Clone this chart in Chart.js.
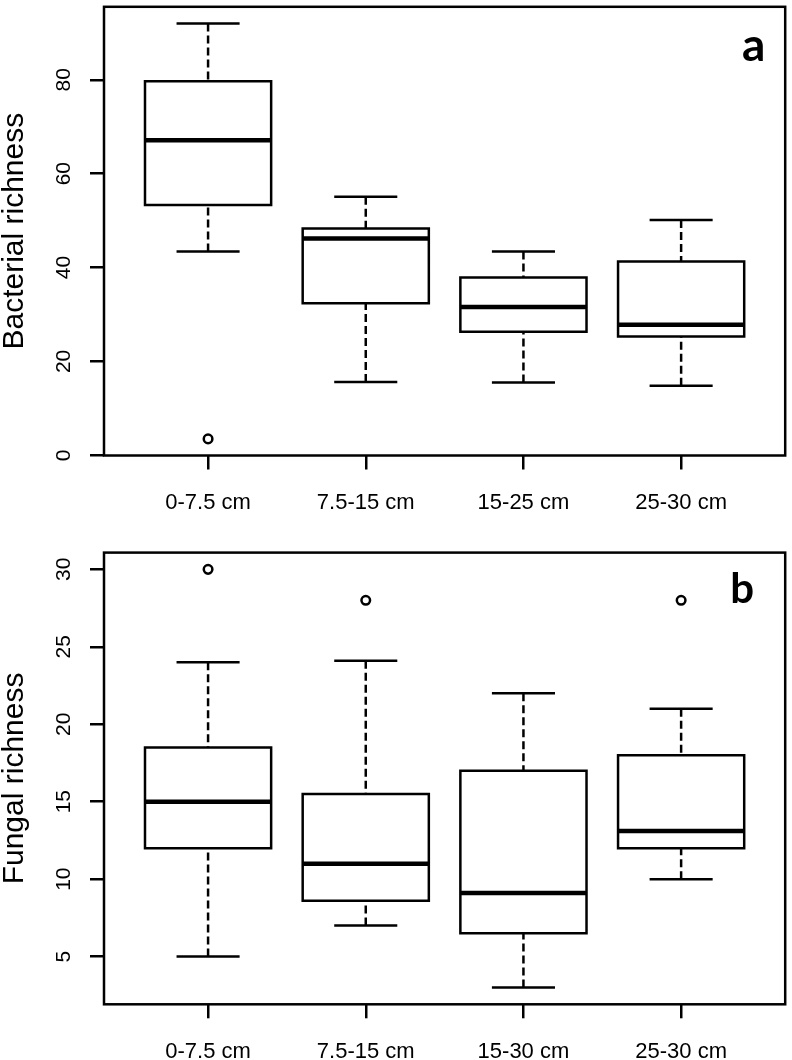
<!DOCTYPE html>
<html><head><meta charset="utf-8">
<script src="https://cdn.jsdelivr.net/npm/chart.js@4.4.1/dist/chart.umd.min.js"></script>
<style>
html,body{margin:0;padding:0;background:#fff;}
#wrap{position:relative;width:792px;height:1060px;background:#fff;}
canvas{position:absolute;left:0;}
</style></head><body>
<div id="wrap">
<canvas id="ca" width="792" height="525" style="top:0px"></canvas>
<canvas id="cb" width="792" height="535" style="top:525px"></canvas>
</div>
<script>
// ---------- Panel a: Bacterial richness ----------
const categoriesA = ["0-7.5 cm", "7.5-15 cm", "15-25 cm", "25-30 cm"];
const whiskerLowA = [43.4, 15.6, 15.5, 14.8];
const q1A         = [53.3, 32.4, 26.3, 25.3];
const medianA     = [67.1, 46.2, 31.6, 27.8];
const q3A         = [79.7, 48.3, 37.9, 41.3];
const whiskerHighA= [92.0, 55.1, 43.4, 50.1];
const outliersA   = [[3.5], [], [], []];
const yTicksA     = [0, 20, 40, 60, 80];

// ---------- Panel b: Fungal richness ----------
const categoriesB = ["0-7.5 cm", "7.5-15 cm", "15-30 cm", "25-30 cm"];
const whiskerLowB = [5, 7, 3, 10];
const q1B         = [12, 8.6, 6.5, 12];
const medianB     = [15, 11, 9.1, 13.1];
const q3B         = [18.5, 15.5, 17, 18];
const whiskerHighB= [24, 24.1, 22, 21];
const outliersB   = [[30], [28], [], [28]];
const yTicksB     = [5, 10, 15, 20, 25, 30];

const FONT = "'Liberation Sans', Arial, Helvetica, sans-serif";

function buildDatasets(lo, q1, med, q3, hi, out) {
  const halfBox = 0.4, halfCap = 0.2;
  const boxes = [], medians = [], whiskers = [], caps = [], pts = [];
  lo.forEach((_, i) => {
    const x = i + 1;
    boxes.push({x: x - halfBox, y: q1[i]}, {x: x + halfBox, y: q1[i]}, {x: x + halfBox, y: q3[i]},
               {x: x - halfBox, y: q3[i]}, {x: x - halfBox, y: q1[i]}, {x: x, y: null});
    medians.push({x: x - halfBox, y: med[i]}, {x: x + halfBox, y: med[i]}, {x: x, y: null});
    whiskers.push({x: x, y: lo[i]}, {x: x, y: q1[i]}, {x: x, y: null},
                  {x: x, y: hi[i]}, {x: x, y: q3[i]}, {x: x, y: null});
    caps.push({x: x - halfCap, y: lo[i]}, {x: x + halfCap, y: lo[i]}, {x: x, y: null},
              {x: x - halfCap, y: hi[i]}, {x: x + halfCap, y: hi[i]}, {x: x, y: null});
    out[i].forEach(v => pts.push({x: x, y: v}));
  });
  const line = {showLine: true, pointRadius: 0, borderColor: '#000', backgroundColor: 'transparent',
                fill: false, tension: 0, spanGaps: false};
  return [
    Object.assign({label: 'whiskers', data: whiskers, borderWidth: 2.5, borderDash: [8, 4], borderCapStyle: 'butt'}, line),
    Object.assign({label: 'caps', data: caps, borderWidth: 2.5, borderCapStyle: 'butt'}, line),
    Object.assign({label: 'boxes', data: boxes, borderWidth: 2.5, borderCapStyle: 'square', borderJoinStyle: 'miter'}, line),
    Object.assign({label: 'medians', data: medians, borderWidth: 4.5, borderCapStyle: 'butt'}, line),
    {label: 'outliers', data: pts, showLine: false, pointRadius: 4.3, pointBorderWidth: 2.5,
     pointBorderColor: '#000', pointBackgroundColor: '#fff', pointStyle: 'circle'}
  ];
}

function range(arrs) {
  const all = [].concat(...arrs.map(a => a.flat()));
  const lo = Math.min(...all), hi = Math.max(...all);
  const pad = (hi - lo) * 0.04;
  return [lo - pad, hi + pad];
}

const framePlugin = {
  id: 'frame',
  afterDraw(chart) {
    const {ctx, chartArea: a} = chart;
    ctx.save();
    ctx.strokeStyle = '#000';
    ctx.lineWidth = 2.5;
    ctx.strokeRect(a.left, a.top, a.right - a.left, a.bottom - a.top);
    const L = chart.options.plugins.panelLetter;
    ctx.fillStyle = '#000';
    ctx.font = 'bold ' + L.size + "px Lato, 'Open Sans', sans-serif";
    ctx.textAlign = 'center';
    ctx.textBaseline = 'alphabetic';
    ctx.fillText(L.text, a.right - L.dx, a.top + L.dy);
    ctx.restore();
  }
};

function zeroPad(s) { s.paddingTop = 0; s.paddingBottom = 0; s.paddingLeft = 0; s.paddingRight = 0; }

function makeChart(id, cats, lo, q1, med, q3, hi, out, yTicks, title, padTop, xHeight, letter) {
  const [ymin, ymax] = range([lo, hi, out]);
  const nx = cats.length;
  const xpad = nx * 0.04;
  return new Chart(document.getElementById(id), {
    type: 'scatter',
    data: {datasets: buildDatasets(lo, q1, med, q3, hi, out)},
    options: {
      responsive: false,
      devicePixelRatio: 1,
      animation: false,
      layout: {padding: {top: padTop, right: 3, left: 0, bottom: 0}},
      plugins: {legend: {display: false}, tooltip: {enabled: false}, panelLetter: letter},
      events: [],
      scales: {
        x: {
          type: 'linear', min: 0.5 - xpad, max: nx + 0.5 + xpad,
          afterBuildTicks: s => { s.ticks = cats.map((c, i) => ({value: i + 1})); },
          afterFit: s => { s.height = xHeight; zeroPad(s); },
          grid: {drawOnChartArea: false, drawTicks: true, tickLength: 14, color: '#000', lineWidth: 2.5},
          border: {display: false},
          ticks: {autoSkip: false, maxRotation: 0, minRotation: 0, padding: 20, color: '#000',
                  font: {family: FONT, size: 22},
                  callback: v => cats[Math.round(v) - 1]}
        },
        y: {
          type: 'linear', min: ymin, max: ymax,
          afterBuildTicks: s => { s.ticks = yTicks.map(v => ({value: v})); },
          afterFit: s => { s.width = 104; zeroPad(s); },
          grid: {drawOnChartArea: false, drawTicks: true, tickLength: 14, color: '#000', lineWidth: 2.5},
          border: {display: false},
          ticks: {minRotation: 90, maxRotation: 90, crossAlign: 'center', padding: 14, color: '#000',
                  font: {family: FONT, size: 21}},
          title: {display: true, text: title, color: '#000', font: {family: FONT, size: 30, lineHeight: 1.0},
                  padding: {top: 0, bottom: 0}}
        }
      }
    },
    plugins: [framePlugin]
  });
}

makeChart('ca', categoriesA, whiskerLowA, q1A, medianA, q3A, whiskerHighA, outliersA, yTicksA,
          'Bacterial richness', 3.3, 69.5, {text: 'a', size: 46, dx: 31.5, dy: 53.7});
makeChart('cb', categoriesB, whiskerLowB, q1B, medianB, q3B, whiskerHighB, outliersB, yTicksB,
          'Fungal richness', 27.6, 55.7, {text: 'b', size: 42, dx: 43, dy: 50.4});
</script>
</body></html>
